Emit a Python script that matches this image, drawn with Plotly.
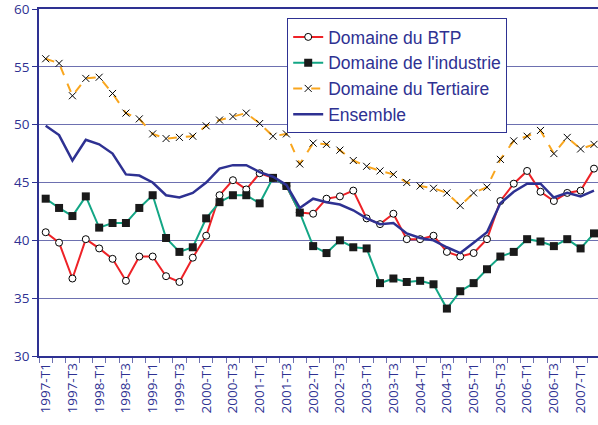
import plotly.graph_objects as go

QUARTERS = [f"{year}-T{q}" for year in range(1997, 2008) for q in range(1, 5)][:42]

BTP = [40.7, 39.8, 36.7, 40.1, 39.3, 38.4, 36.5, 38.6, 38.6, 36.9,
       36.4, 38.5, 40.4, 43.9, 45.2, 44.4, 45.8, 45.4, 44.7, 42.4,
       42.3, 43.6, 43.8, 44.3, 41.9, 41.4, 42.3, 40.1, 40.1, 40.4,
       39.0, 38.6, 38.9, 40.1, 43.4, 44.9, 46.0, 44.2, 43.4, 44.1,
       44.3, 46.2]

INDUSTRIE = [43.6, 42.8, 42.1, 43.8, 41.1, 41.5, 41.5, 42.8, 43.9, 40.2,
             39.0, 39.4, 41.9, 43.3, 43.9, 43.9, 43.2, 45.4, 44.7, 42.4,
             39.5, 38.9, 40.0, 39.4, 39.3, 36.3, 36.7, 36.4, 36.5, 36.2,
             34.1, 35.6, 36.3, 37.5, 38.6, 39.0, 40.1, 39.9, 39.5, 40.1,
             39.3, 40.6]

TERTIAIRE = [55.7, 55.3, 52.5, 54.0, 54.1, 52.7, 51.0, 50.5, 49.2, 48.8,
             48.9, 49.0, 49.9, 50.4, 50.7, 51.0, 50.1, 49.0, 49.2, 46.6,
             48.4, 48.3, 47.8, 46.9, 46.4, 46.0, 45.7, 45.0, 44.7, 44.5,
             44.1, 43.0, 44.1, 44.6, 47.0, 48.6, 49.0, 49.5, 47.5, 48.9,
             47.9, 48.3]

ENSEMBLE = [49.9, 49.1, 46.9, 48.7, 48.3, 47.5, 45.7, 45.6, 45.0, 43.9,
            43.7, 44.1, 45.0, 46.2, 46.5, 46.5, 45.9, 45.5, 44.8, 42.8,
            43.6, 43.3, 43.1, 42.6, 41.9, 41.4, 41.5, 40.6, 40.2, 40.0,
            39.4, 38.9, 39.8, 40.7, 43.2, 44.2, 44.9, 44.9, 43.7, 44.1,
            43.8, 44.3]

NAVY = "#2E3192"
FONT = "Open Sans"

x = list(range(len(QUARTERS)))

fig = go.Figure()
fig.add_trace(go.Scatter(
    x=x, y=BTP, name="Domaine du BTP", mode="lines+markers",
    line=dict(color="#EE2227", width=2),
    marker=dict(symbol="circle", size=7, color="white",
                line=dict(color="black", width=1)),
))
fig.add_trace(go.Scatter(
    x=x, y=INDUSTRIE, name="Domaine de l'industrie", mode="lines+markers",
    line=dict(color="#13A685", width=2),
    marker=dict(symbol="square", size=8, color="#1a1a1a",
                line=dict(color="#1a1a1a", width=0)),
))
fig.add_trace(go.Scatter(
    x=x, y=TERTIAIRE, name="Domaine du Tertiaire", mode="lines+markers",
    line=dict(color="#F9A61E", width=2, dash="dash"),
    marker=dict(symbol="x-thin", size=7, color="black",
                line=dict(color="black", width=1)),
))
fig.add_trace(go.Scatter(
    x=x, y=ENSEMBLE, name="Ensemble", mode="lines",
    line=dict(color=NAVY, width=2.5),
))

fig.update_layout(
    width=598, height=425,
    margin=dict(l=39, r=0, t=9, b=69),
    paper_bgcolor="white", plot_bgcolor="white",
    font=dict(family=FONT, color=NAVY),
    showlegend=True,
    legend=dict(
        x=0.444, y=0.974, xanchor="left", yanchor="top",
        bgcolor="white", bordercolor=NAVY, borderwidth=1,
        font=dict(size=17.5, color=NAVY, family="Liberation Sans"),
        tracegroupgap=0, itemwidth=30,
    ),
)
# mirror=True draws the line along the top (the 60 gridline in the original)
fig.update_xaxes(
    range=[-0.5, 41.3], automargin=False, ticklabeloverflow="allow",
    tickvals=x[::2], ticktext=QUARTERS[::2], tickangle=-90,
    ticks="", showgrid=False, zeroline=False,
    showline=True, linecolor=NAVY, linewidth=1.5, mirror=True,
    tickfont=dict(size=13.5, color=NAVY),
    minor=dict(tickvals=[i - 0.5 for i in range(len(QUARTERS) + 1)],
               ticks="outside", ticklen=5, tickcolor="#6D70B0",
               showgrid=False),
)
fig.update_yaxes(
    range=[30, 60], dtick=5, automargin=False, ticklabeloverflow="allow",
    showgrid=True, gridcolor="#6D70B0", gridwidth=1,
    zeroline=False, showline=True, linecolor=NAVY, linewidth=1.5,
    ticks="outside", ticklen=5, tickcolor=NAVY,
    tickfont=dict(size=13.5, color=NAVY),
)

# drop the browser's default 8px body margin so the chart sits at the page corner
fig.write_html(
    "out.html",
    config={"displayModeBar": False},
    post_script="document.body.style.margin='0';",
)
